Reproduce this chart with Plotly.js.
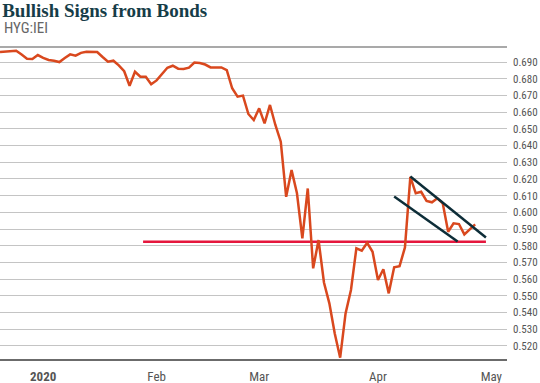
<!DOCTYPE html>
<html><head><meta charset="utf-8">
<script src="https://cdn.plot.ly/plotly-3.0.1.min.js"></script>
<style>html,body{margin:0;padding:0;background:#fff}#chart{width:540px;height:383px}</style>
</head><body><div id="chart"></div>
<script>
// Trading days (HYG:IEI ratio, daily close)
const dates = [
'2019-12-19','2019-12-20','2019-12-23','2019-12-24','2019-12-26','2019-12-27','2019-12-30','2019-12-31',
'2020-01-02','2020-01-03','2020-01-06','2020-01-07','2020-01-08','2020-01-09','2020-01-10','2020-01-13','2020-01-14','2020-01-15','2020-01-16','2020-01-17','2020-01-21','2020-01-22','2020-01-23','2020-01-24','2020-01-27','2020-01-28','2020-01-29','2020-01-30','2020-01-31',
'2020-02-03','2020-02-04','2020-02-05','2020-02-06','2020-02-07','2020-02-10','2020-02-11','2020-02-12','2020-02-13','2020-02-14','2020-02-18','2020-02-19','2020-02-20','2020-02-21','2020-02-24','2020-02-25','2020-02-26','2020-02-27','2020-02-28',
'2020-03-02','2020-03-03','2020-03-04','2020-03-05','2020-03-06','2020-03-09','2020-03-10','2020-03-11','2020-03-12','2020-03-13','2020-03-16','2020-03-17','2020-03-18','2020-03-19','2020-03-20','2020-03-23','2020-03-24','2020-03-25','2020-03-26','2020-03-27','2020-03-30','2020-03-31',
'2020-04-01','2020-04-02','2020-04-03','2020-04-06','2020-04-07','2020-04-08','2020-04-09','2020-04-13','2020-04-14','2020-04-15','2020-04-16','2020-04-17','2020-04-20','2020-04-21','2020-04-22','2020-04-23','2020-04-24','2020-04-27','2020-04-28'
];
const ratio = [
0.6960,0.6962,0.6965,0.6968,0.6945,0.6920,0.6918,0.6942,
0.6925,0.6912,0.6908,0.6900,0.6924,0.6946,0.6938,0.6955,0.6962,0.6962,0.6960,0.6930,0.6902,0.6908,0.6880,0.6845,0.6758,0.6842,0.6812,0.6812,0.6767,
0.6790,0.6825,0.6866,0.6878,0.6860,0.6858,0.6866,0.6897,0.6894,0.6885,0.6868,0.6868,0.6868,0.6852,0.6743,0.6693,0.6699,0.6589,0.6553,
0.6623,0.6533,0.6643,0.6523,0.6423,0.6093,0.6253,0.6114,0.5844,0.6143,0.5665,0.5834,0.5580,0.5455,0.5275,0.5130,0.5395,0.5535,0.5784,0.5770,0.5818,0.5764,
0.5595,0.5659,0.5515,0.5671,0.5678,0.5790,0.6213,0.6114,0.6123,0.6068,0.6060,0.6084,0.6054,0.5884,0.5934,0.5930,0.5868,0.5900,0.5928
];
// Market holidays removed from the axis
const holidays = ['2019-12-25','2020-01-01','2020-01-20','2020-02-17','2020-04-10'];
// Support level and falling channel
const supportDates = ['2020-01-29T12:00','2020-04-30'];
const supportVals = [0.5824, 0.5824];
const upperDates = ['2020-04-09','2020-04-30'];
const upperVals = [0.6215, 0.5850];
const lowerDates = ['2020-04-06','2020-04-22T18:00'];
const lowerVals = [0.6095, 0.5825];
// Axis ticks
const xTickVals = ['2020-01-02','2020-02-03','2020-03-02','2020-04-01','2020-05-01'];
const xTickText = ['<b>2020</b>','Feb','Mar','Apr','May'];

// pick the first installed condensed face
function hasFont(name) {
  const c = document.createElement('canvas').getContext('2d');
  const s = 'mmmmmmmmmmlli0.690WWW';
  for (const base of ['monospace', 'serif']) {
    c.font = '40px ' + base; const w0 = c.measureText(s).width;
    c.font = '40px "' + name + '", ' + base; const w1 = c.measureText(s).width;
    if (Math.abs(w1 - w0) > 0.5) return true;
  }
  return false;
}
const condCands = ['Roboto Condensed', 'Liberation Sans Narrow', 'Open Sans Condensed', 'DejaVu Sans Condensed'];
const condName = condCands.find(hasFont) || 'Liberation Sans';
const cond = '"' + condName + '", sans-serif';
const narrow = condName !== 'DejaVu Sans Condensed' && condName !== 'Liberation Sans';

const traces = [
  {x: supportDates, y: supportVals, type: 'scatter', mode: 'lines', line: {color: '#e5173d', width: 2.5}, hoverinfo: 'skip'},
  {x: dates, y: ratio, type: 'scatter', mode: 'lines', line: {color: '#d9481e', width: 2.5}},
  {x: upperDates, y: upperVals, type: 'scatter', mode: 'lines', line: {color: '#0d2d38', width: 2.5}, hoverinfo: 'skip'},
  {x: lowerDates, y: lowerVals, type: 'scatter', mode: 'lines', line: {color: '#0d2d38', width: 2.5}, hoverinfo: 'skip'}
];

const layout = {
  width: 540, height: 383,
  margin: {l: 0, r: 33, t: 47, b: 24, pad: 0},
  paper_bgcolor: '#ffffff', plot_bgcolor: '#ffffff',
  showlegend: false,
  title: {
    text: '<b>Bullish Signs from Bonds</b>',
    x: 0.004, xref: 'container', xanchor: 'left',
    y: 1 - 10/383, yref: 'container', yanchor: 'middle',
    font: {family: '"Liberation Serif", serif', size: 19, color: '#163d48'}
  },
  annotations: [{
    text: 'HYG:IEI', xref: 'paper', x: 0.004, xanchor: 'left',
    yref: 'paper', y: 1 + 19.5/312, yanchor: 'middle', showarrow: false,
    font: {family: cond, size: narrow ? 15 : 13, color: '#666666'}
  }],
  shapes: [{
    type: 'line', xref: 'paper', yref: 'paper', x0: 0, x1: 1, y0: 1, y1: 1,
    line: {color: '#8c8c8c', width: 1.5}
  }],
  xaxis: {
    type: 'date',
    range: ['2019-12-19', '2020-05-05T21:36'],
    rangebreaks: [{bounds: ['sat', 'mon']}, {values: holidays}],
    tickmode: 'array', tickvals: xTickVals, ticktext: xTickText,
    showgrid: false, zeroline: false, showline: true, linecolor: '#6b6b6b', linewidth: 2,
    ticks: '', ticklabelstandoff: 4,
    tickfont: {family: cond, size: 13, color: '#555555'}
  },
  yaxis: {
    side: 'right',
    range: [0.5122, 0.6990],
    tick0: 0.52, dtick: 0.01, tickformat: '.3f',
    showgrid: true, gridcolor: '#c4c4c4', gridwidth: 1,
    zeroline: false, showline: false, ticks: '', ticklabelstandoff: narrow ? 5 : 3,
    tickfont: {family: cond, size: narrow ? 11 : 10, color: '#555555'}
  }
};

Plotly.newPlot('chart', traces, layout, {staticPlot: true, displayModeBar: false});
</script></body></html>
